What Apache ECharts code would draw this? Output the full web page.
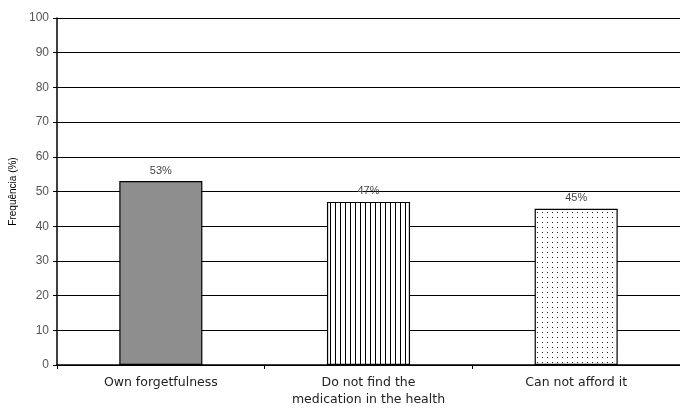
<!DOCTYPE html>
<html>
<head>
<meta charset="utf-8">
<script src="https://cdn.jsdelivr.net/npm/echarts@6/dist/echarts.min.js"></script>
<style>
  html, body { margin: 0; padding: 0; background: #fff; }
  #container { width: 680px; height: 408px; }
</style>
</head>
<body>
<div id="container"></div>
<script>
const categories = ['Own forgetfulness', 'Do not find the\nmedication in the health', 'Can not afford it'];
const values = [53, 47, 45];
const yTicks = [0, 10, 20, 30, 40, 50, 60, 70, 80, 90, 100];

// hatch patterns
function stripePattern() {
    let c = document.createElement('canvas');
    c.width = 5; c.height = 5;
    let ctx = c.getContext('2d');
    ctx.fillStyle = '#fff';
    ctx.fillRect(0, 0, 5, 5);
    ctx.fillStyle = '#000';
    ctx.fillRect(0, 0, 1, 5);
    return c;
}
function dotPattern() {
    let c = document.createElement('canvas');
    c.width = 5; c.height = 5;
    let ctx = c.getContext('2d');
    ctx.fillStyle = '#fff';
    ctx.fillRect(0, 0, 5, 5);
    ctx.fillStyle = '#222';
    ctx.fillRect(2, 2, 1, 1);
    return c;
}
const FILLS = [
    '#8e8e8e',
    { image: stripePattern(), repeat: 'repeat' },
    { image: dotPattern(), repeat: 'repeat' }
];

let dom = document.getElementById('container');
let myChart = echarts.init(dom);
let option = {
    backgroundColor: '#fff',
    animation: false,
    grid: { left: 57, right: 0, top: 18, bottom: 40 },
    xAxis: {
        type: 'category',
        data: categories,
        axisLine: { lineStyle: { color: '#000', width: 1.5 } },
        axisTick: { show: true, length: 4, lineStyle: { color: '#000' } },
        axisLabel: {
            color: '#222',
            fontFamily: 'DejaVu Sans',
            fontSize: 12.5,
            lineHeight: 17,
            margin: 9
        }
    },
    yAxis: {
        type: 'value',
        min: 0,
        max: 100,
        interval: 10,
        name: 'Frequência (%)',
        nameLocation: 'middle',
        nameGap: 30,
        nameRotate: 90,
        nameTextStyle: { color: '#000', fontSize: 10, fontFamily: 'Liberation Sans' },
        axisLine: { show: true, lineStyle: { color: '#000', width: 1.5 } },
        axisTick: { show: true, inside: false, length: 4, lineStyle: { color: '#000' } },
        axisLabel: {
            color: '#555',
            fontSize: 12,
            fontFamily: 'Liberation Sans',
            margin: 8,
            formatter: function (v) { return yTicks.indexOf(v) >= 0 ? String(v) : ''; }
        },
        splitLine: { show: true, lineStyle: { color: '#000', width: 1.2 } }
    },
    series: [{
        type: 'bar',
        barWidth: '40%',
        data: values.map(function (v, i) {
            return {
                value: v,
                itemStyle: { color: FILLS[i], borderColor: '#000', borderWidth: 1.2 }
            };
        }),
        label: {
            show: true,
            position: 'top',
            distance: 5,
            color: '#444',
            fontSize: 11,
            fontFamily: 'Liberation Sans',
            formatter: '{c}%'
        }
    }]
};
myChart.setOption(option, true);
</script>
</body>
</html>
